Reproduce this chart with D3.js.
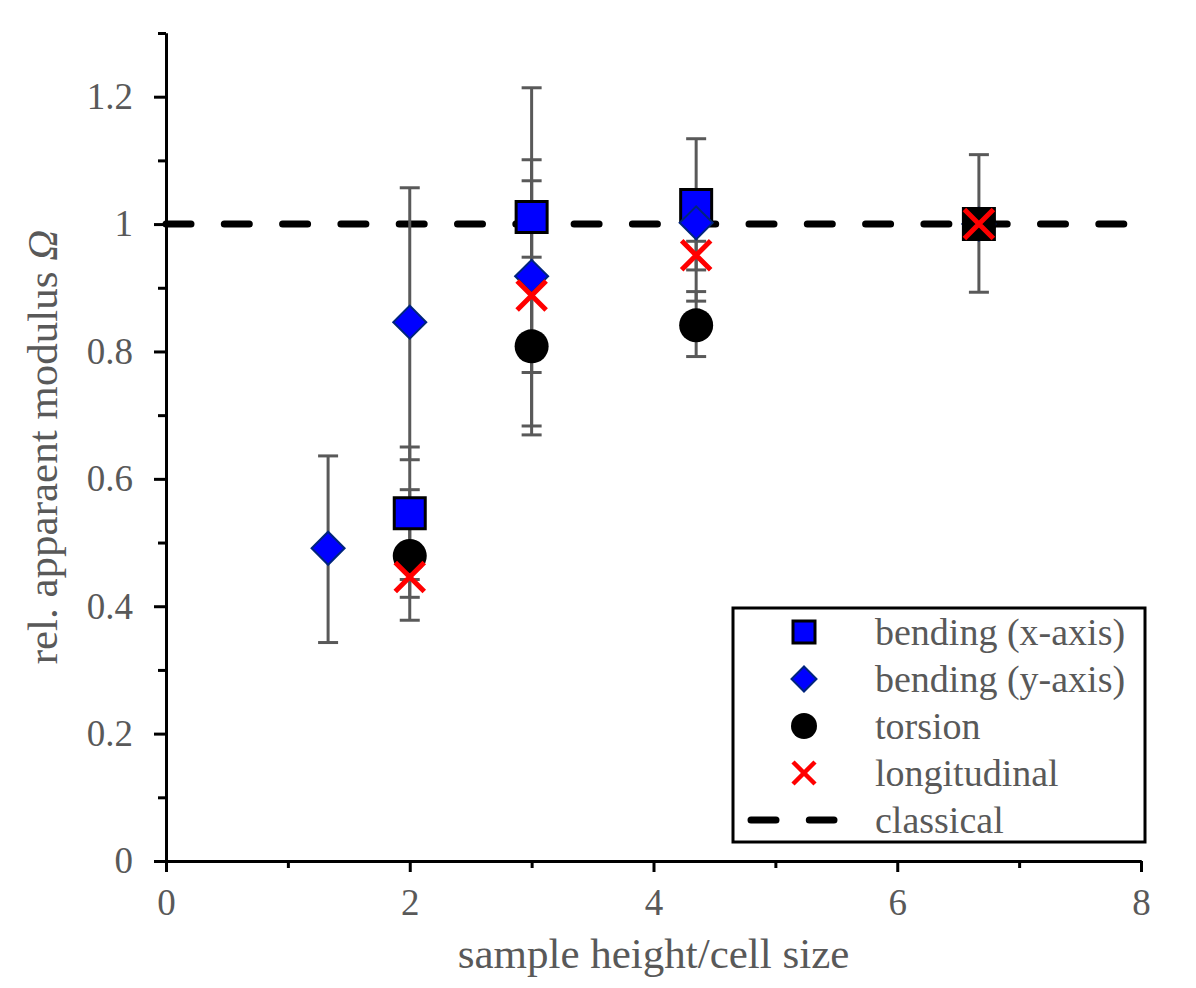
<!DOCTYPE html>
<html>
<head>
<meta charset="utf-8">
<script src="https://cdn.jsdelivr.net/npm/d3@7"></script>
<style>
  body { margin: 0; background: #fff; }
  svg { display: block; }
</style>
</head>
<body>
<svg id="chart" width="1196" height="988"></svg>
<script>
//#region Data
const xTicks = [0, 2, 4, 6, 8];
const yTicks = [0, 0.2, 0.4, 0.6, 0.8, 1, 1.2];
const classicalValue = 1;
const refHeight = 6.67;

const bendXHeight = [2, 3, 4.35, 6.67];
const bendXValue = [0.546, 1.011, 1.030, 1.000];
const bendXLow = [0.442, 0.808, 0.928, 0.893];
const bendXHigh = [0.650, 1.214, 1.134, 1.109];

const bendYHeight = [1.33, 2, 3, 4.35, 6.67];
const bendYValue = [0.491, 0.846, 0.918, 1.002, 1.000];
const bendYLow = [0.343, 0.630, 0.767, 0.973, 1.000];
const bendYHigh = [0.636, 1.057, 1.068, 1.030, 1.000];

const torsionHeight = [2, 3, 4.35, 6.67];
const torsionValue = [0.479, 0.808, 0.841, 1.000];
const torsionLow = [0.378, 0.683, 0.792, 1.000];
const torsionHigh = [0.583, 0.948, 0.894, 1.000];

const longHeight = [2, 3, 4.35, 6.67];
const longValue = [0.446, 0.888, 0.951, 1.000];
const longLow = [0.414, 0.669, 0.879, 1.000];
const longHigh = [0.478, 1.101, 1.023, 1.000];
//#endregion

const toPoints = (xs, ys, lo, hi) => xs.map((x, i) => ({ x, y: ys[i], lo: lo[i], hi: hi[i] }));

const series = [
    { name: 'bending (x-axis)', marker: 'square', data: toPoints(bendXHeight, bendXValue, bendXLow, bendXHigh) },
    { name: 'bending (y-axis)', marker: 'diamond', data: toPoints(bendYHeight, bendYValue, bendYLow, bendYHigh) },
    { name: 'torsion', marker: 'circle', data: toPoints(torsionHeight, torsionValue, torsionLow, torsionHigh) },
    { name: 'longitudinal', marker: 'cross', data: toPoints(longHeight, longValue, longLow, longHigh) }
];

//#region Layout
const svg = d3.select('#chart');
const width = +svg.attr('width');
const height = +svg.attr('height');
const margin = { top: 33, right: 55, bottom: 126, left: 166 };

const font = '"Liberation Serif", "Times New Roman", serif';
const textColor = '#595959';
const barColor = '#595959';

const xScale = d3.scaleLinear().domain([0, 8]).range([margin.left, width - margin.right]);
const yScale = d3.scaleLinear().domain([0, 1.3]).range([height - margin.bottom - 1, margin.top]);
//#endregion

//#region Markers
const markerPath = (type, s) => {
    if (type === 'square') return d3.symbol(d3.symbolSquare, s.side * s.side)();
    if (type === 'diamond') return d3.symbol(d3.symbolSquare, s.diag * s.diag / 2)();
    if (type === 'circle') return d3.symbol(d3.symbolCircle, Math.PI * s.r * s.r)();
    const h = s.half;
    return `M${-h},${-h}L${h},${h}M${-h},${h}L${h},${-h}`;
};

const drawMarker = (g, type, s, isRef) => {
    const p = g.append('path').attr('d', markerPath(type, s));
    if (type === 'square') {
        p.attr('fill', isRef ? '#000' : '#0000ff').attr('stroke', '#000').attr('stroke-width', s.stroke);
    } else if (type === 'diamond') {
        p.attr('transform', 'rotate(45)').attr('fill', '#0000ff').attr('stroke', '#00247d').attr('stroke-width', 2);
    } else if (type === 'circle') {
        p.attr('fill', '#000');
    } else {
        p.attr('fill', 'none').attr('stroke', '#ff0000').attr('stroke-width', s.crossWidth);
    }
};

const plotSize = { side: 31, diag: 33, r: 17, half: 14.5, stroke: 3, crossWidth: 5 };
const legendSize = { side: 22, diag: 25, r: 13, half: 11, stroke: 3, crossWidth: 4.5 };
//#endregion

//#region Axes
const styleAxis = g => {
    g.attr('font-family', font);
    g.select('.domain').attr('stroke', '#000').attr('stroke-width', 3);
    g.selectAll('.tick line').attr('stroke', '#000').attr('stroke-width', 3);
    g.selectAll('.tick text').attr('fill', textColor).attr('font-size', 37);
};

const xMinor = d3.range(1, 8, 2);
const yMinor = d3.range(1, 14, 2).map(d => d / 10);

svg.append('g')
    .attr('transform', `translate(0,${yScale(0)})`)
    .call(d3.axisBottom(xScale).tickValues(xMinor).tickSize(7).tickSizeOuter(0).tickFormat(''))
    .call(styleAxis);

svg.append('g')
    .attr('transform', `translate(0,${yScale(0)})`)
    .call(d3.axisBottom(xScale).tickValues(xTicks).tickSize(11).tickSizeOuter(0).tickPadding(17).tickFormat(d3.format('~g')))
    .call(styleAxis);

svg.append('g')
    .attr('transform', `translate(${xScale(0)},0)`)
    .call(d3.axisLeft(yScale).tickValues(yMinor).tickSize(8).tickSizeOuter(0).tickFormat(''))
    .call(styleAxis);

svg.append('g')
    .attr('transform', `translate(${xScale(0)},0)`)
    .call(d3.axisLeft(yScale).tickValues(yTicks).tickSize(12).tickSizeOuter(0).tickPadding(21).tickFormat(d3.format('~g')))
    .call(styleAxis);

svg.append('text')
    .attr('x', (xScale(0) + xScale(8)) / 2)
    .attr('y', 968)
    .attr('text-anchor', 'middle')
    .attr('font-family', font)
    .attr('font-size', 43)
    .attr('fill', textColor)
    .text('sample height/cell size');

const yTitle = svg.append('text')
    .attr('transform', `translate(57,${yScale(0.65)}) rotate(-90)`)
    .attr('text-anchor', 'middle')
    .attr('font-family', font)
    .attr('font-size', 43)
    .attr('fill', textColor);
yTitle.append('tspan').text('rel. apparaent modulus ');
yTitle.append('tspan').attr('font-style', 'italic').text('Ω');
//#endregion

//#region Classical line
svg.append('line')
    .attr('x1', xScale(0)).attr('x2', xScale(8))
    .attr('y1', yScale(classicalValue)).attr('y2', yScale(classicalValue))
    .attr('stroke', '#000')
    .attr('stroke-width', 7)
    .attr('stroke-linecap', 'round')
    .attr('stroke-dasharray', '25 33.3');
//#endregion

//#region Error bars and markers
const bars = svg.append('g').attr('class', 'error-bars');
series.forEach(s => {
    s.data.filter(d => d.hi > d.lo).forEach(d => {
        const cx = xScale(d.x);
        bars.append('line')
            .attr('x1', cx).attr('x2', cx)
            .attr('y1', yScale(d.lo)).attr('y2', yScale(d.hi))
            .attr('stroke', barColor).attr('stroke-width', 3);
        [d.lo, d.hi].filter(v => v !== d.y).forEach(v => {
            bars.append('line')
                .attr('x1', cx - 10).attr('x2', cx + 10)
                .attr('y1', yScale(v)).attr('y2', yScale(v))
                .attr('stroke', barColor).attr('stroke-width', 3);
        });
    });
});

series.forEach(s => {
    const g = svg.append('g').attr('class', s.marker);
    s.data.forEach(d => {
        const m = g.append('g').attr('transform', `translate(${xScale(d.x)},${yScale(d.y)})`);
        drawMarker(m, s.marker, plotSize, d.x === refHeight);
    });
});
//#endregion

//#region Legend
const legend = svg.append('g').attr('class', 'legend');
legend.append('rect')
    .attr('x', 733).attr('y', 608)
    .attr('width', 412).attr('height', 234)
    .attr('fill', '#fff')
    .attr('stroke', '#000')
    .attr('stroke-width', 3);

const legendRows = [...series.map(s => ({ name: s.name, marker: s.marker })), { name: 'classical', marker: 'dash' }];
const rowY = d3.scalePoint().domain(legendRows.map(d => d.name)).range([632, 820]);

legendRows.forEach(row => {
    const ry = rowY(row.name);
    if (row.marker === 'dash') {
        legend.append('line')
            .attr('x1', 751).attr('x2', 834)
            .attr('y1', ry).attr('y2', ry)
            .attr('stroke', '#000')
            .attr('stroke-width', 7)
            .attr('stroke-linecap', 'round')
            .attr('stroke-dasharray', '25 33.3');
    } else {
        const m = legend.append('g').attr('transform', `translate(804,${ry})`);
        drawMarker(m, row.marker, legendSize, false);
    }
    legend.append('text')
        .attr('x', 875)
        .attr('y', ry)
        .attr('dy', '0.33em')
        .attr('font-family', font)
        .attr('font-size', 38)
        .attr('fill', textColor)
        .text(row.name);
});
//#endregion
</script>
</body>
</html>
